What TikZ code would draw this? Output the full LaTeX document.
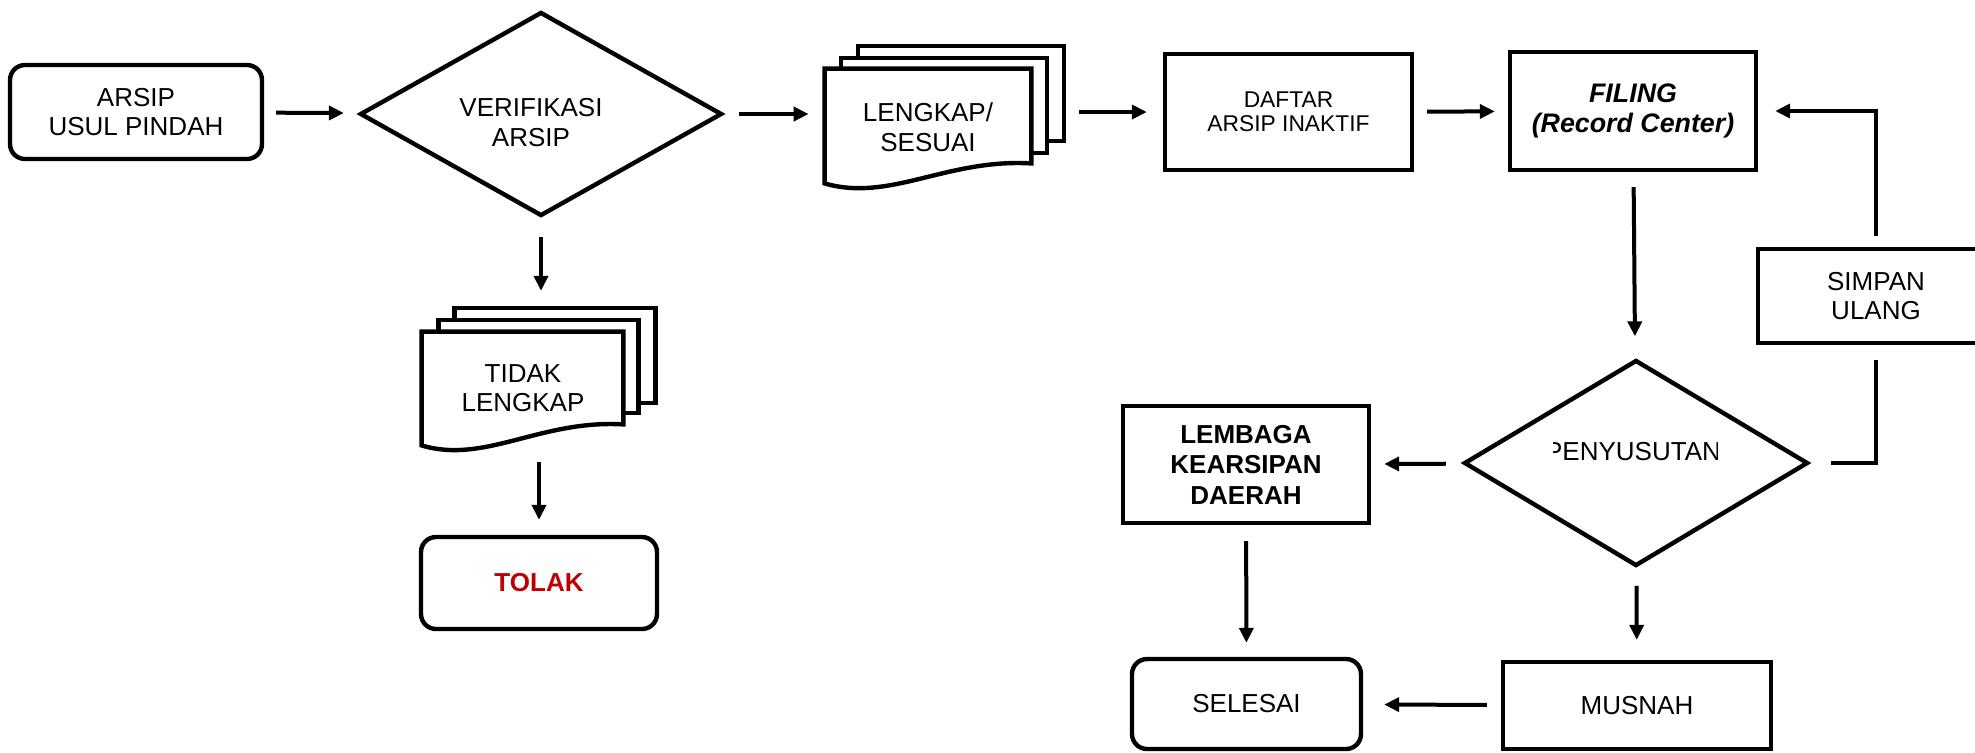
\documentclass[tikz,border=0pt]{standalone}
\usepackage{fontspec}
\setmainfont{Liberation Sans}
\usetikzlibrary{arrows.meta,shapes.geometric,calc}
\definecolor{tolakred}{RGB}{192,0,0}
\begin{document}
\begin{tikzpicture}[x=0.5pt,y=-0.5pt,
  txt/.style={font=\fontsize{13}{14.75}\selectfont, align=center, inner sep=0pt},
  box/.style={draw, line width=2.2pt, txt, fill=white},
  rbox/.style={box, rounded corners=7.5pt},
  dia/.style={draw, diamond, line width=2.2pt, inner sep=0pt},
  doc/.style={draw, line width=2.2pt, fill=white, inner sep=0pt},
  docline/.style={draw, line width=2.2pt, fill=white},
  arr/.style={line width=2pt, -{Triangle[length=7.5pt,width=7pt]}},
  conn/.style={line width=2pt}]
\useasboundingbox (0,0) rectangle (1975,752);
\clip (0,0) rectangle (1975,752);

% top row
\node[rbox, minimum width=126pt, minimum height=47pt] (arsip) at (136,112) {ARSIP\\USUL PINDAH};
\node[dia, minimum width=181pt, minimum height=102pt] (ver) at (541,114) {};
\node[txt] (vertxt) at (531,122.5) {VERIFIKASI\\ARSIP};

\node[doc, minimum width=103pt, minimum height=47.5pt] (lenC) at (961,93.5) {};
\node[doc, minimum width=103pt, minimum height=47.5pt] (lenM) at (944,105.5) {};
\node[inner sep=0pt, minimum width=103pt, minimum height=47pt] (len) at (928,116) {};
\path[docline] (len.north west) -- (len.north east) -- (len.south east)
  .. controls +(-85,-5) and +(65,19) .. ($(len.south west)+(0,20)$) -- cycle;
\node[txt] (lentxt) at (928,127) {LENGKAP/\\SESUAI};

\node[box, font=\fontsize{11.4}{12.25}\selectfont, minimum width=123.5pt, minimum height=58pt] (daftar) at (1288.5,112) {DAFTAR\\ARSIP INAKTIF};
\node[box, font=\fontsize{13.4}{15}\selectfont\bfseries\itshape, minimum width=123pt, minimum height=59pt] (filing) at (1633,111) {FILING\\(Record Center)};
\node[box, minimum width=118pt, minimum height=47pt] (simpan) at (1876,296) {SIMPAN\\ULANG};

% right lower part
\node[dia, minimum width=172pt, minimum height=103pt] (pen) at (1636,463) {};
\begin{scope}
  \clip (1553,420) rectangle (1717,480);
  \node[txt] (pentxt) at (1633,452) {PENYUSUTAN};
\end{scope}
\node[box, font=\fontsize{13}{15.25}\selectfont\bfseries, minimum width=123pt, minimum height=58.5pt] (lembaga) at (1246,464.5) {LEMBAGA\\KEARSIPAN\\DAERAH};
\node[rbox, minimum width=114.5pt, minimum height=45pt] (selesai) at (1246.5,704) {SELESAI};
\node[box, minimum width=134pt, minimum height=43.5pt] (musnah) at (1637,705.5) {MUSNAH};

% left lower part
\node[doc, minimum width=100.5pt, minimum height=47.5pt] (tidC) at (555,355.5) {};
\node[doc, minimum width=100pt, minimum height=46.5pt] (tidM) at (538.5,366.5) {};
\node[inner sep=0pt, minimum width=100.5pt, minimum height=46pt] (tid) at (522.5,378) {};
\path[docline] (tid.north west) -- (tid.north east) -- (tid.south east)
  .. controls +(-83,-5) and +(63,19) .. ($(tid.south west)+(0,21)$) -- cycle;
\node[txt] (tidtxt) at (523,388) {TIDAK\\LENGKAP};
\node[rbox, minimum width=118pt, minimum height=46pt, text=tolakred, font=\fontsize{13}{14.75}\selectfont\bfseries] (tolak) at (539,583) {TOLAK};

% connectors
\draw[arr, shorten <=6pt, shorten >=7.75pt] (arsip) -- (ver);
\draw[arr, shorten <=7.5pt, shorten >=8pt] (ver.east) -- (ver.east -| len.west);
\draw[arr, shorten <=6.5pt, shorten >=8pt] (daftar.west -| lenC.east) -- (daftar.west);
\draw[arr, shorten <=6.5pt, shorten >=6.5pt] (daftar) -- (filing);
\draw[arr, shorten <=7.5pt, shorten >=11pt] (filing) -- (pen);
\draw[arr, shorten <=5.5pt, shorten >=8.5pt] (simpan.north) |- (filing.east);
\draw[conn, shorten <=10.5pt, shorten >=7.5pt] (pen.east) -| (simpan.south);
\draw[arr, shorten <=8.5pt, shorten >=6.5pt] (pen) -- (lembaga);
\draw[arr, shorten <=8pt, shorten >=7pt] (lembaga) -- (selesai);
\draw[arr, shorten <=9pt, shorten >=10pt] (pen) -- (musnah);
\draw[arr, shorten <=7pt, shorten >=10.5pt] (musnah) -- (selesai);
\draw[arr, shorten <=9.5pt, shorten >=7.5pt] (ver.south) -- (ver.south |- tidC.north);
\draw[arr, shorten <=19pt, shorten >=7.5pt] (tolak.north |- tid.south) -- (tolak.north);
\end{tikzpicture}
\end{document}
